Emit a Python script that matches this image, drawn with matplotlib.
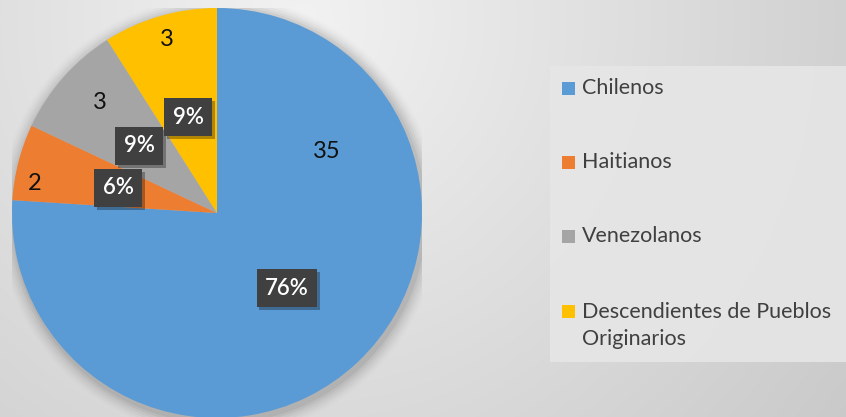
import numpy as np
import matplotlib
matplotlib.use("Agg")
import matplotlib.pyplot as plt
import matplotlib.patheffects as pe
from matplotlib.patches import Circle, Rectangle

plt.rcParams['font.family'] = ['Lato', 'DejaVu Sans']

categories = ["Chilenos", "Haitianos", "Venezolanos", "Descendientes de Pueblos\nOriginarios"]
values = [35, 2, 3, 3]
shares = [76, 6, 9, 9]
pct_labels = ["76%", "6%", "9%", "9%"]
colors = ["#5B9BD5", "#ED7D31", "#A5A5A5", "#FFC000"]

W, H = 846, 417
fig = plt.figure(figsize=(W / 100, H / 100), dpi=100)

# background gradient (pixel coordinates, origin top-left)
bg = fig.add_axes([0, 0, 1, 1])
yy, xx = np.mgrid[0:H, 0:W]
d = np.sqrt((xx - 300.0) ** 2 + (yy - 20.0) ** 2)
g = np.clip(242 - 0.06 * d, 190, 245) / 255.0
bg.imshow(np.dstack([g, g, g]), extent=[0, W, H, 0], aspect='auto', zorder=0)
bg.set_xlim(0, W)
bg.set_ylim(H, 0)
bg.axis('off')

# legend drawn in pixel coordinates
bg.add_patch(Rectangle((550, 66), W - 550, 296, facecolor='#E6E6E6', edgecolor='none',
                       alpha=0.9, zorder=1))
leg_y = [88, 162, 236, 311]
for lab, c, y in zip(categories, colors, leg_y):
    bg.add_patch(Rectangle((562, y - 6.5), 13, 13, facecolor=c, edgecolor='none', zorder=2))
    nlines = lab.count("\n") + 1
    bg.text(582, y + (nlines - 1) * 14.5, lab, ha='left', va='center', fontsize=15.5,
            color='#404040', linespacing=1.38, zorder=3)

# pie axes: center (217,213) px, radius 205 px
cx, cy, r = 217, 213, 205
ax = fig.add_axes([(cx - r) / W, (H - cy - r) / H, 2 * r / W, 2 * r / H])
ax.axis('off')

# soft shadow
for i, a in enumerate(np.linspace(0.05, 0.01, 6)):
    ax.add_patch(Circle((0.01, -0.015), 1.0 + 0.012 * (i + 1), color='black', alpha=a, lw=0, zorder=0))

wedges, _ = ax.pie(shares, colors=colors, startangle=90, counterclock=False,
                   radius=1.0, wedgeprops=dict(linewidth=0), center=(0, 0))
ax.set_xlim(-1, 1)
ax.set_ylim(-1, 1)
ax.set_aspect('auto')

value_pos = [(0.537, 0.298), (-0.888, 0.146), (-0.571, 0.537), (-0.244, 0.844)]
pct_pos = [(0.341, -0.366), (-0.483, 0.122), (-0.380, 0.327), (-0.141, 0.468)]

for v, (x, y) in zip(values, value_pos):
    ax.text(x, y, str(v), ha='center', va='center', fontsize=17, color='#111111', zorder=5)

for p, (x, y) in zip(pct_labels, pct_pos):
    t = ax.text(x, y, p, ha='center', va='center', fontsize=16, color='white',
                fontweight='semibold',
                zorder=6, bbox=dict(boxstyle='square,pad=0.38', fc='#404040', ec='none'))
    t.get_bbox_patch().set_path_effects([
        pe.SimplePatchShadow(offset=(2, -2), shadow_rgbFace='black', alpha=0.3),
        pe.Normal()])

fig.savefig("out.png", dpi=100)
